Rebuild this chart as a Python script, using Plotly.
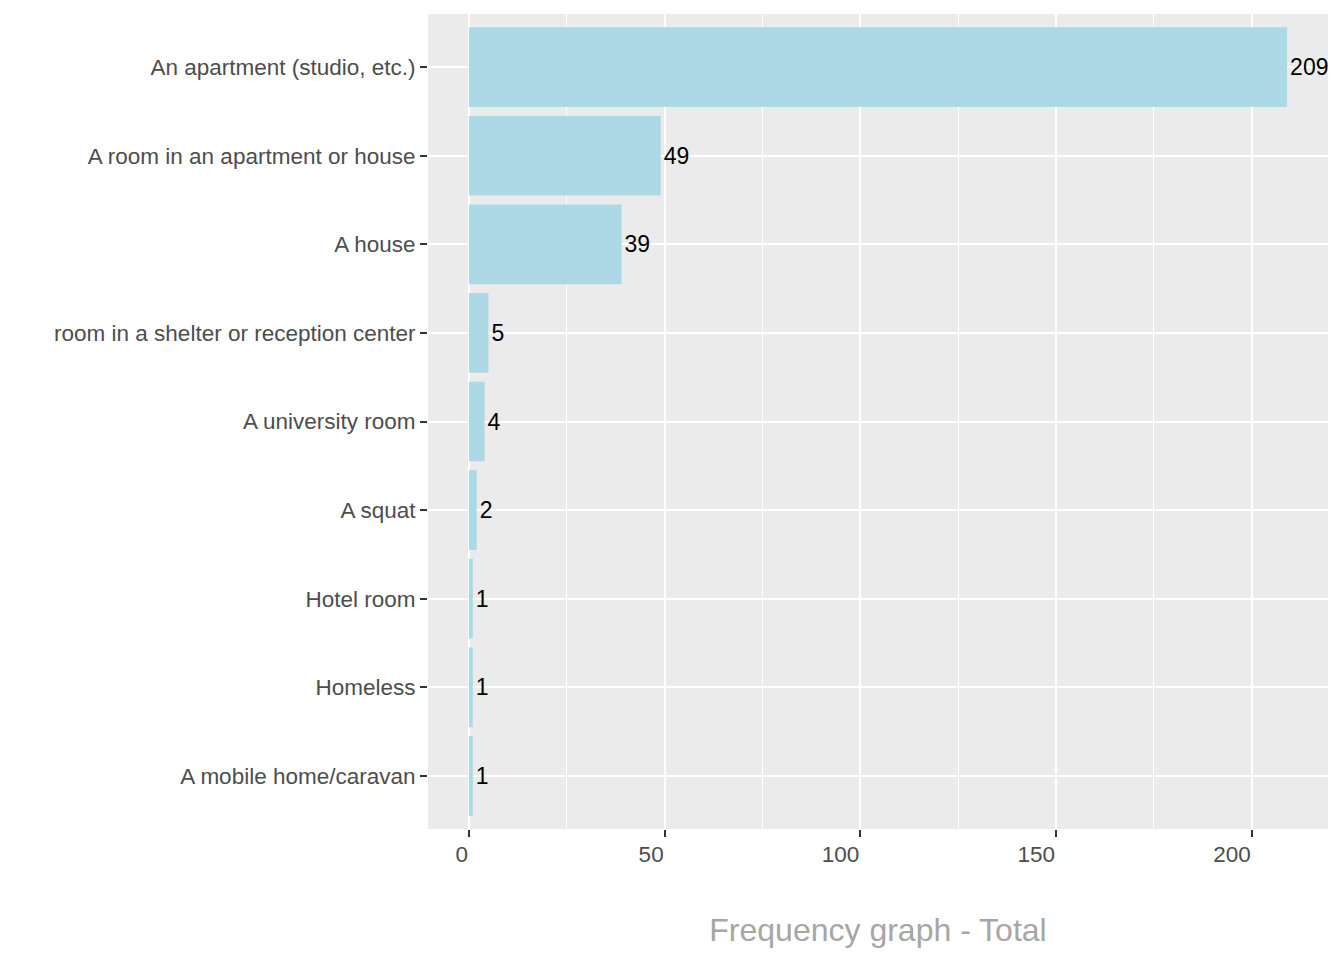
import plotly.graph_objects as go

categories = [
    "An apartment (studio, etc.)",
    "A room in an apartment or house",
    "A house",
    "room in a shelter or reception center",
    "A university room",
    "A squat",
    "Hotel room",
    "Homeless",
    "A mobile home/caravan",
]
counts = [209, 49, 39, 5, 4, 2, 1, 1, 1]
x_ticks = [0, 50, 100, 150, 200]

FONT = "Liberation Sans, Arial, sans-serif"

fig = go.Figure(
    go.Bar(
        x=counts,
        y=categories,
        orientation="h",
        width=0.9,
        marker=dict(color="#ADD8E6", line=dict(width=0)),
        text=[str(c) for c in counts],
        textposition="outside",
        textfont=dict(family=FONT, size=23, color="#000000"),
        cliponaxis=False,
        hoverinfo="x+y",
    )
)

xmax = max(counts)
pad = xmax * 0.05

fig.update_layout(
    width=1344,
    height=960,
    margin=dict(l=420, r=24, t=6, b=139),
    paper_bgcolor="#FFFFFF",
    plot_bgcolor="#EBEBEB",
    showlegend=False,
    font=dict(family=FONT, size=22.5, color="#4D4D4D"),
    xaxis=dict(
        range=[-pad, xmax + pad],
        tickvals=x_ticks,
        ticktext=[str(v) for v in x_ticks],
        ticks="outside",
        ticklen=7,
        tickwidth=2,
        tickcolor="#333333",
        ticklabelposition="outside left",
        ticklabelstandoff=5,
        tickfont=dict(family=FONT, size=22.5, color="#4D4D4D"),
        showgrid=True,
        gridcolor="#FFFFFF",
        gridwidth=2,
        minor=dict(dtick=25, tick0=0, showgrid=True, gridcolor="#FFFFFF", gridwidth=1, ticks=""),
        zeroline=False,
        showline=False,
        title=dict(
            text="Frequency graph - Total",
            font=dict(family=FONT, size=32, color="#A6A6A6"),
            standoff=52,
        ),
    ),
    yaxis=dict(
        categoryorder="array",
        categoryarray=categories,
        range=[len(categories) - 0.4, -0.6],
        ticks="outside",
        ticklen=7,
        tickwidth=2,
        tickcolor="#333333",
        tickfont=dict(family=FONT, size=22.5, color="#4D4D4D"),
        showgrid=True,
        gridcolor="#FFFFFF",
        gridwidth=2,
        zeroline=False,
        showline=False,
    ),
)

fig.write_html("out.html")
